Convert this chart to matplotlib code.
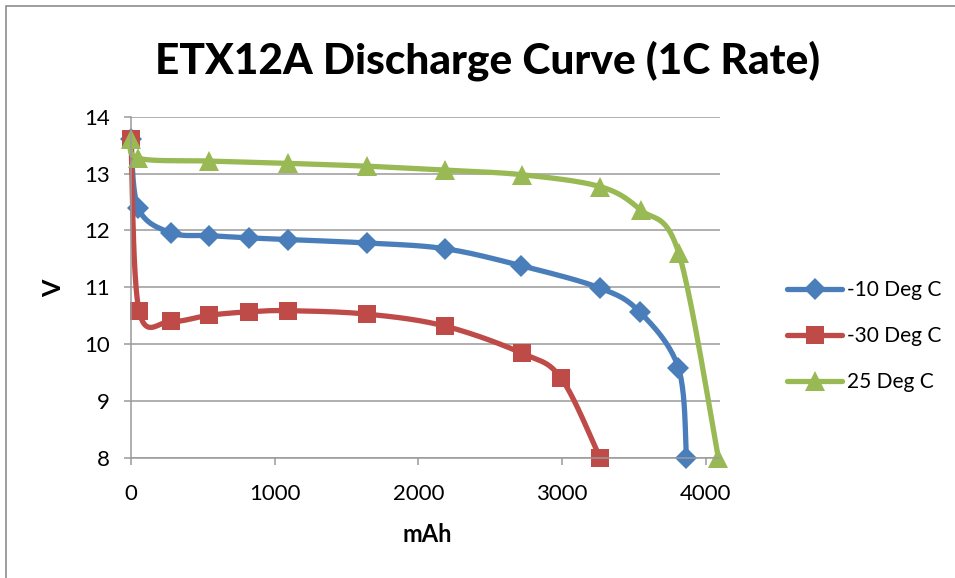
import numpy as np
import matplotlib
matplotlib.use("Agg")
from matplotlib import pyplot as plt
from matplotlib.patches import Rectangle

# values (mAh, V)
mah_m10 = [0, 51, 276, 542, 821, 1092, 1641, 2184, 2717, 3262, 3540, 3811, 3866]
volt_m10 = [13.6, 12.39, 11.96, 11.91, 11.87, 11.84, 11.78, 11.68, 11.38, 10.99, 10.57, 9.58, 8.0]

mah_m30 = [0, 56, 276, 545, 821, 1094, 1641, 2184, 2724, 2995, 3266]
volt_m30 = [13.6, 10.59, 10.40, 10.51, 10.57, 10.59, 10.53, 10.32, 9.84, 9.40, 8.0]

mah_25 = [0, 51, 545, 1090, 1641, 2184, 2721, 3266, 3547, 3813, 4089]
volt_25 = [13.6, 13.27, 13.22, 13.18, 13.13, 13.06, 12.98, 12.77, 12.36, 11.60, 8.0]

labels = ["-10 Deg C", "-30 Deg C", "25 Deg C"]
colors = ["#4A7EBB", "#BE4B48", "#98B954"]
markers = ["D", "s", "^"]
msizes = [11, 13, 14]

x_ticks = [0, 1000, 2000, 3000, 4000]
y_ticks = [8, 9, 10, 11, 12, 13, 14]

plt.rcParams["font.family"] = ["Lato", "DejaVu Sans"]


def smooth(x, y, n=24):
    # Excel-like smoothed line: bezier segments with catmull-rom control points
    pts = np.column_stack([x, y]).astype(float)
    ext = np.vstack([pts[0], pts, pts[-1]])
    t = np.linspace(0, 1, n, endpoint=False)[:, None]
    out = []
    for i in range(1, len(ext) - 2):
        p0, p1, p2, p3 = ext[i - 1], ext[i], ext[i + 1], ext[i + 2]
        c1 = p1 + (p2 - p0) / 6
        c2 = p2 - (p3 - p1) / 6
        seg = ((1 - t) ** 3) * p1 + 3 * ((1 - t) ** 2) * t * c1 + 3 * (1 - t) * t ** 2 * c2 + t ** 3 * p2
        out.append(seg)
    out.append(pts[-1:])
    curve = np.vstack(out)
    marks = list(range(0, len(curve), n))
    return curve[:, 0], curve[:, 1], marks


fig = plt.figure(figsize=(9.55, 5.78), dpi=100)
W, H = 955, 578
ax = fig.add_axes([131 / W, 1 - 458 / H, (720 - 131) / W, (458 - 116.7) / H])

series = [(mah_m10, volt_m10), (mah_m30, volt_m30), (mah_25, volt_25)]
for (xs, ys), lab, col, mk, ms in zip(series, labels, colors, markers, msizes):
    sx, sy, marks = smooth(xs, ys)
    ax.plot(sx, sy, color=col, lw=3.8, marker=mk, markersize=ms, markevery=marks,
            markeredgewidth=0, solid_capstyle="round", solid_joinstyle="round",
            label=lab, clip_on=False)

ax.set_xlim(0, 4100)
ax.set_ylim(8, 14)
ax.set_xticks(x_ticks)
ax.set_yticks(y_ticks)
ax.grid(axis="y", color="#9a9a9a", lw=1.1)
ax.set_axisbelow(True)
for s in ["top", "right"]:
    ax.spines[s].set_visible(False)
for s in ["left", "bottom"]:
    ax.spines[s].set_color("#9a9a9a")
    ax.spines[s].set_linewidth(1.1)
ax.tick_params(axis="both", colors="#9a9a9a", width=1.1, length=5, labelsize=16,
               labelcolor="black")
ax.tick_params(axis="x", pad=14)
ax.tick_params(axis="y", pad=10)

ax.set_xlabel("mAh", fontsize=17, fontweight="bold")
ax.xaxis.set_label_coords(0.503, -0.19)
ax.set_ylabel("V", fontsize=18, fontweight="bold")
ax.yaxis.set_label_coords(-0.112, 0.498)

fig.text(487 / W, 1 - 61 / H, "ETX12A Discharge Curve (1C Rate)", fontsize=30.5,
         fontweight=900, ha="center", va="center")

ax.legend(loc="upper left", bbox_to_anchor=(787 / W, 1 - 280 / H),
          bbox_transform=fig.transFigure, frameon=False, fontsize=15,
          handlelength=2.64, handletextpad=0.24, labelspacing=1.25,
          borderpad=0, borderaxespad=0, numpoints=1)

fig.patches.append(Rectangle((6 / W, -0.1), 2, 1 - 6 / H + 0.1, transform=fig.transFigure,
                             fill=False, edgecolor="#8c8c8c", lw=1.2))

fig.savefig("out.png", dpi=100)
